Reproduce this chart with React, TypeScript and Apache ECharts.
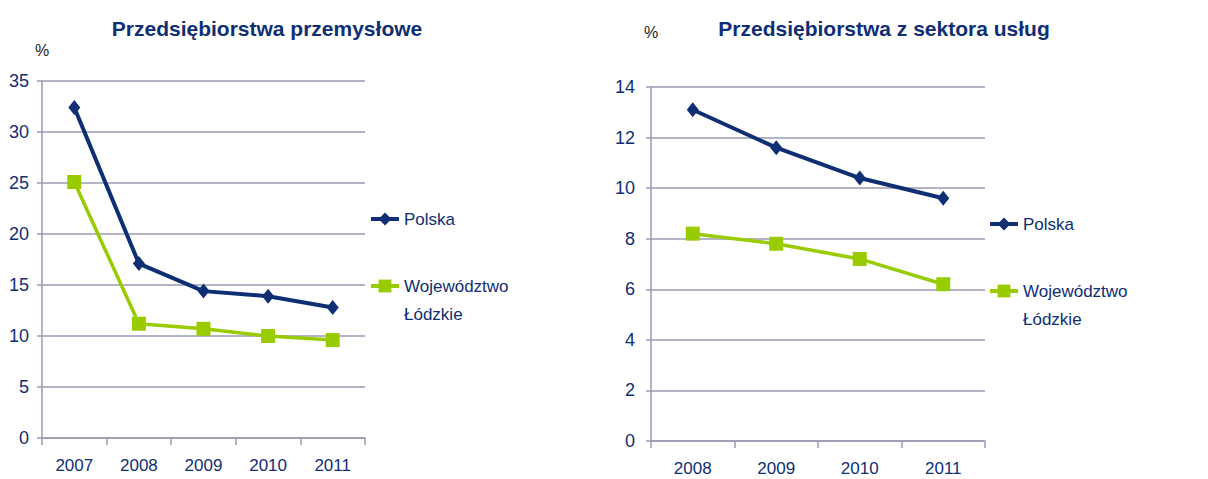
import React, { useEffect, useRef } from "react";
import * as echarts from "echarts";

const years1 = ["2007", "2008", "2009", "2010", "2011"];
const polska1 = [32.4, 17.1, 14.4, 13.9, 12.8];
const lodzkie1 = [25.1, 11.2, 10.7, 10.0, 9.6];

const years2 = ["2008", "2009", "2010", "2011"];
const polska2 = [13.1, 11.6, 10.4, 9.6];
const lodzkie2 = [8.2, 7.8, 7.2, 6.2];

const title1 = "Przedsiębiorstwa przemysłowe";
const title2 = "Przedsiębiorstwa z sektora usług";
const nameP = "Polska";
const nameL = "Województwo Łódzkie";

const NAVY = "#0f2e74";
const GREEN = "#99cc00";
const GRID = "#9a9bb5";
const FONT = "'Liberation Sans', Arial, sans-serif";

export default function App() {
  const ref = useRef<HTMLDivElement>(null);
  useEffect(() => {
    document.body.style.margin = "0";
    const chart = echarts.init(ref.current!, null, { renderer: "svg" });
    const yAxisCommon = {
      type: "value",
      min: 0,
      axisLine: { show: true, lineStyle: { color: GRID, width: 1.5 } },
      axisTick: { show: true, length: 5, lineStyle: { color: GRID, width: 1.5 } },
      splitLine: { show: true, lineStyle: { color: GRID, width: 1.5 } },
      nameLocation: "end",
      nameTextStyle: { color: "#222", fontSize: 16, fontFamily: FONT, align: "center" },
    };
    const xAxisCommon = {
      type: "category",
      boundaryGap: true,
      axisLine: { show: true, lineStyle: { color: GRID, width: 1.5 } },
      axisTick: { show: true, length: 7, lineStyle: { color: GRID, width: 1.5 } },
      axisLabel: { color: NAVY, fontSize: 17, fontFamily: FONT, margin: 19 },
    };
    const yLabel = { color: NAVY, fontSize: 18, fontFamily: FONT };
    const lineP = (xi: number, data: number[]) => ({
      type: "line",
      name: nameP,
      xAxisIndex: xi,
      yAxisIndex: xi,
      data,
      symbol: "diamond",
      symbolSize: [12, 15],
      lineStyle: { color: NAVY, width: 4 },
      itemStyle: { color: NAVY },
      z: 3,
    });
    const lineL = (xi: number, data: number[]) => ({
      type: "line",
      name: nameL,
      xAxisIndex: xi,
      yAxisIndex: xi,
      data,
      symbol: "rect",
      symbolSize: 14,
      lineStyle: { color: GREEN, width: 3.5 },
      itemStyle: { color: GREEN },
      z: 2,
    });
    const legendCommon = {
      orient: "vertical",
      padding: 0,
      itemWidth: 28,
      itemHeight: 16,
      itemGap: 0,
      selectedMode: false,
      lineStyle: { width: 4 },
      textStyle: { color: NAVY, fontSize: 17, fontFamily: FONT, lineHeight: 28 },
    };
    const lform = (n: string) => (n === nameL ? "\nWojewództwo\nŁódzkie" : n);
    chart.setOption({
      animation: false,
      backgroundColor: "#ffffff",
      title: [
        {
          text: title1,
          left: 262,
          top: 13,
          textAlign: "center",
          textStyle: { color: NAVY, fontSize: 21, fontWeight: "bold", fontFamily: FONT },
        },
        {
          text: title2,
          left: 879,
          top: 13,
          textAlign: "center",
          textStyle: { color: NAVY, fontSize: 21, fontWeight: "bold", fontFamily: FONT },
        },
      ],
      legend: [
        { ...legendCommon, data: [nameP], left: 369, top: 219 - 14, formatter: lform },
        { ...legendCommon, data: [nameL], left: 369, top: 286 - 42, formatter: lform },
        { ...legendCommon, data: [nameP], left: 988, top: 224 - 14, formatter: lform },
        { ...legendCommon, data: [nameL], left: 988, top: 291 - 42, formatter: lform },
      ],
      grid: [
        { left: 42, top: 81, width: 323, height: 357 },
        { left: 651, top: 87, width: 334, height: 354 },
      ],
      xAxis: [
        { ...xAxisCommon, gridIndex: 0, data: years1 },
        { ...xAxisCommon, gridIndex: 1, data: years2 },
      ],
      yAxis: [
        {
          ...yAxisCommon,
          gridIndex: 0,
          max: 35,
          interval: 5,
          name: "%",
          nameGap: 23,
          axisLabel: { ...yLabel, margin: 13 },
        },
        {
          ...yAxisCommon,
          gridIndex: 1,
          max: 14,
          interval: 2,
          name: "%",
          nameGap: 47,
          axisLabel: { ...yLabel, margin: 16 },
        },
      ],
      series: [lineP(0, polska1), lineL(0, lodzkie1), lineP(1, polska2), lineL(1, lodzkie2)],
    });
    return () => chart.dispose();
  }, []);
  return (
    <div
      ref={ref}
      style={{ position: "absolute", left: 0, top: 0, width: 1208, height: 479, background: "#fff" }}
    />
  );
}
